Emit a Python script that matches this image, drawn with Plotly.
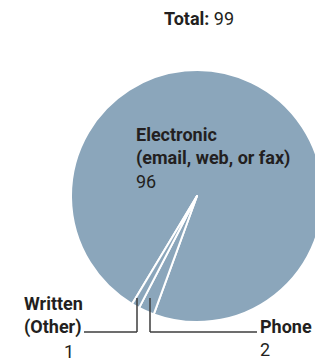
import plotly.graph_objects as go

# data
channels = ["Electronic", "Phone", "Written (Other)"]
counts = [96, 2, 1]
total = sum(counts)

# the page body keeps its default 8px margin, so the figure is drawn 8px in
W, H = 315, 354
OFF = 8
PIE_FILL = "#8ba6bb"
INK = "#231f20"
FONT = "Roboto, Liberation Sans, Arial, sans-serif"


def px_x(x):
    return (x - OFF) / W


def px_y(y):
    return 1 - (y - OFF) / H


# pie centred at (197, 196) on screen, radius ~125 px
cx, cy, r = 197, 196, 126

fig = go.Figure(
    go.Pie(
        labels=channels,
        values=counts,
        sort=False,
        direction="clockwise",
        rotation=211,
        marker={"colors": [PIE_FILL] * len(counts), "line": {"color": "white", "width": 2}},
        textinfo="none",
        hoverinfo="skip",
        showlegend=False,
        domain={"x": [px_x(cx - r), min(1.0, px_x(cx + r))], "y": [px_y(cy + r), px_y(cy - r)]},
    )
)

annotations = [
    dict(text=f"<b>Total:</b> {total}", x=px_x(199), y=px_y(6), xanchor="center", yanchor="top"),
    dict(text=f"<b>Electronic</b><br><b>(email, web, or fax)</b><br>{counts[0]}",
         x=px_x(134), y=px_y(122), xanchor="left", yanchor="top", align="left"),
    dict(text="<b>Written</b><br><b>(Other)</b>", x=px_x(22), y=px_y(291), xanchor="left", yanchor="top", align="left"),
    dict(text=f"{counts[2]}", x=px_x(76), y=px_y(339), xanchor="right", yanchor="top", align="right"),
    dict(text=f"<b>Phone</b><br>{counts[1]}", x=px_x(258), y=px_y(314), xanchor="left", yanchor="top", align="left"),
]

for a in annotations:
    fig.add_annotation(**a, xref="paper", yref="paper", showarrow=False,
                       font={"family": FONT, "size": 18, "color": INK})

line_style = {"color": "#3c3c3c", "width": 1.5}
leaders = [
    [(137, 298), (137, 332), (84, 332)],
    [(150, 298), (150, 332), (257, 332)],
]
for pts in leaders:
    for (x0, y0), (x1, y1) in zip(pts[:-1], pts[1:]):
        fig.add_shape(type="line", xref="paper", yref="paper",
                      x0=px_x(x0), y0=px_y(y0), x1=px_x(x1), y1=px_y(y1), line=line_style)

fig.update_layout(
    width=W,
    height=H,
    margin={"l": 0, "r": 0, "t": 0, "b": 0},
    paper_bgcolor="white",
    plot_bgcolor="white",
)

fig.write_html("out.html", config={"displayModeBar": False})
